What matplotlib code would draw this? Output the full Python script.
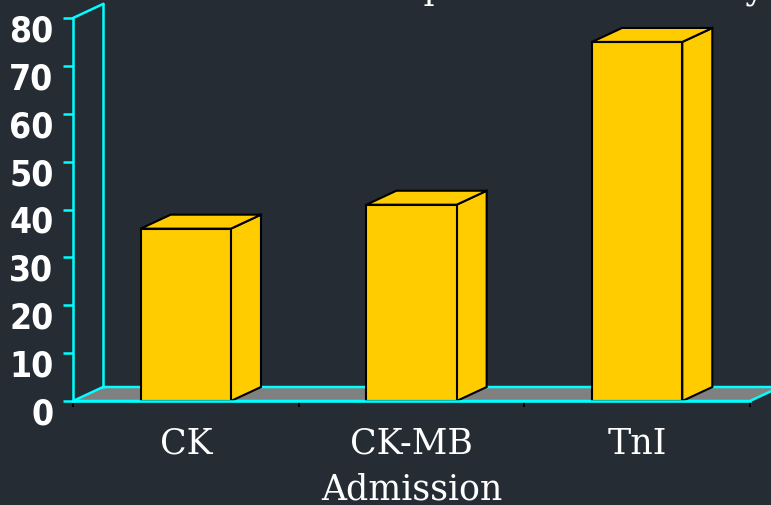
import matplotlib
matplotlib.use("Agg")
import os
import matplotlib.pyplot as plt
from matplotlib import font_manager
from matplotlib.patches import Polygon, Rectangle
from matplotlib.transforms import ScaledTranslation

# values
categories = ["CK", "CK-MB", "TnI"]
values = [36, 41, 75]
yticks = [0, 10, 20, 30, 40, 50, 60, 70, 80]

bg = "#252c34"
bar_color = "#ffcc00"
cyan = "#00ffff"

# fake 3D depth, in data units
dx = 0.133
dy = 2.92
bw = 0.4


def narrow_font():
    # look for a condensed bold face for the y tick labels
    for fam in ["Liberation Sans Narrow", "DejaVu Sans", "Noto Sans",
                "Open Sans", "Roboto", "Lato", "Inter"]:
        fp = font_manager.FontProperties(family=fam, weight="bold",
                                         stretch="condensed")
        try:
            path = font_manager.findfont(fp, fallback_to_default=False)
        except Exception:
            continue
        name = os.path.basename(path).lower()
        if "condensed" in name or "narrow" in name:
            return font_manager.FontProperties(fname=path), 25.5
    return font_manager.FontProperties(family="DejaVu Sans",
                                       weight="bold"), 20


fig = plt.figure(figsize=(7.71, 5.06), dpi=100, facecolor=bg)
ax = fig.add_axes([73 / 771, (506 - 402) / 506, 677 / 771, 383 / 506])
ax.set_facecolor("none")
ax.set_xlim(-0.5, 2.5)
ax.set_ylim(0, 80)

# floor
floor = Polygon([(-0.5, 0), (2.5, 0), (2.5 + dx, dy), (-0.5 + dx, dy)],
                closed=True, facecolor="#808080", edgecolor=cyan, lw=1.8,
                clip_on=False, zorder=1)
ax.add_patch(floor)

# back wall edge
ax.plot([-0.5 + dx, -0.5 + dx], [dy, 80 + dy], color=cyan, lw=1.8,
        clip_on=False, zorder=1)
ax.plot([-0.5, -0.5 + dx], [80, 80 + dy], color=cyan, lw=1.8,
        clip_on=False, zorder=1)

# bars
for i, v in enumerate(values):
    x0 = i - bw / 2
    x1 = i + bw / 2
    front = Rectangle((x0, 0), bw, v, facecolor=bar_color, edgecolor="black",
                      lw=1.5, zorder=3, clip_on=False)
    side = Polygon([(x1, 0), (x1 + dx, dy), (x1 + dx, v + dy), (x1, v)],
                   closed=True, facecolor=bar_color, edgecolor="black",
                   lw=1.5, zorder=2, clip_on=False)
    top = Polygon([(x0, v), (x1, v), (x1 + dx, v + dy), (x0 + dx, v + dy)],
                  closed=True, facecolor=bar_color, edgecolor="black",
                  lw=1.5, zorder=2, clip_on=False)
    ax.add_patch(side)
    ax.add_patch(top)
    ax.add_patch(front)

# front floor edge over the bars' bottom
ax.plot([-0.5, 2.5], [0, 0], color=cyan, lw=1.8, clip_on=False, zorder=4)

for s in ["top", "right", "bottom"]:
    ax.spines[s].set_visible(False)
ax.spines["left"].set_color(cyan)
ax.spines["left"].set_linewidth(1.8)

# y axis
fp, fsize = narrow_font()
ax.set_yticks(yticks)
ax.set_yticklabels([str(t) for t in yticks])
ax.tick_params(axis="y", colors=cyan, length=7.5, width=1.8, pad=6.5)
shift = ScaledTranslation(0, -9 / 100, fig.dpi_scale_trans)
for lab in ax.get_yticklabels():
    lab.set_fontproperties(fp)
    lab.set_fontweight("bold")
    lab.set_fontsize(fsize)
    lab.set_color("white")
    lab.set_transform(lab.get_transform() + shift)

# x axis
ax.set_xticks([0, 1, 2])
ax.set_xticklabels(categories, family="DejaVu Serif", fontsize=25,
                   color="white")
ax.tick_params(axis="x", length=0, pad=18)
ax.set_xticks([-0.5, 0.5, 1.5, 2.5], minor=True)
ax.tick_params(axis="x", which="minor", colors="black", length=4, width=1.4)
ax.set_xlabel("Admission", family="DejaVu Serif", fontsize=25,
              color="white", labelpad=8)

# title, cut off by the top edge
fig.text(765 / 771, 1.0 + 1 / 506, "Comparative Sensitivity",
         family="DejaVu Serif", fontsize=25, color="white",
         ha="right", va="baseline")

fig.savefig("out.png", dpi=100, facecolor=bg)
